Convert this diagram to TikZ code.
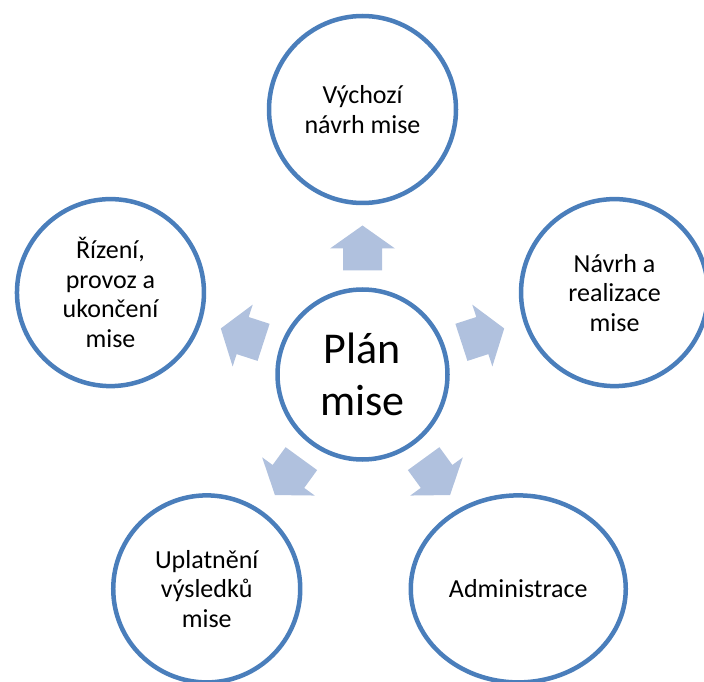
\documentclass[tikz,border=0pt]{standalone}
\usepackage{fontspec}
\setmainfont{Carlito}
\usetikzlibrary{calc,shapes.geometric}

\definecolor{ringblue}{RGB}{74,126,187}
\definecolor{arrowblue}{RGB}{176,193,222}

\begin{document}
\begin{tikzpicture}[x=1pt, y=1pt,
  topic/.style={circle, draw=ringblue, line width=4.5pt, fill=white, minimum size=187pt, inner sep=0pt, align=center, font=\fontsize{26}{29.5}\selectfont},
  hub/.style={topic, minimum size=170pt, font=\fontsize{44}{52}\selectfont},
  pointer/.pic={\fill[arrowblue] (104,-19.5) -- (126,-19.5) -- (126,-32.5) -- (149,0) -- (126,32.5) -- (126,19.5) -- (104,19.5) -- cycle;}]

  \useasboundingbox (0,0) rectangle (704,681);
  \clip (0,0) rectangle (704,681);

  % Centre
  \node[hub] (plan) at (362.5,306.5) {Plán\\mise};

  % Outer ring
  \node[topic] (start) at ($(plan)+(90:265)$) {Výchozí\\návrh mise};
  \node[topic] (design) at ($(plan)+(18:265)$) {Návrh a\\realizace\\mise};
  \node[topic, ellipse, minimum width=215pt, minimum height=187pt] (admin) at ($(plan)+(-54:265)$) {Administrace};
  \node[topic] (results) at ($(plan)+(-126:265)$) {Uplatnění\\výsledků\\mise};
  \node[topic] (operation) at ($(plan)+(162:265)$) {Řízení,\\provoz a\\ukončení\\mise};

  % Block arrows
  \foreach \a in {90,18,-54,-126,162}
    \pic[rotate=\a] at (plan) {pointer};

\end{tikzpicture}
\end{document}
